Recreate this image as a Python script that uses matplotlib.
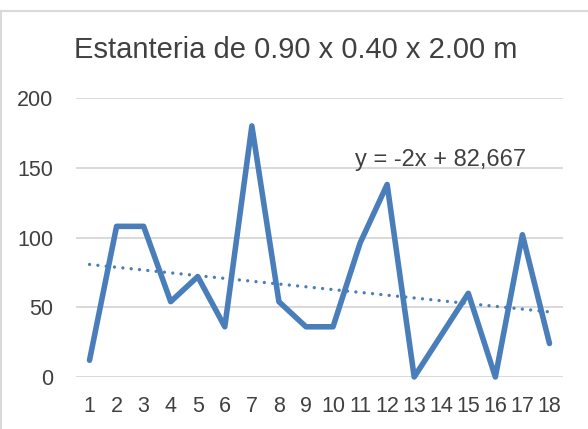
import numpy as np
import matplotlib
matplotlib.use("Agg")
import matplotlib.pyplot as plt
from matplotlib.lines import Line2D

plt.rcParams['font.family'] = ['Liberation Sans', 'DejaVu Sans']

categories = [str(i) for i in range(1, 19)]
values = [12, 108, 108, 54, 72, 36, 180, 54, 36, 36, 96, 138, 0, 30, 60, 0, 102, 24]
title = "Estanteria de 0.90 x 0.40 x 2.00 m"
yticks = [0, 50, 100, 150, 200]

W, H = 588, 429
fig = plt.figure(figsize=(W / 100, H / 100), dpi=100)
ax = fig.add_axes([76 / W, 1 - 377 / H, (563 - 76) / W, (377 - 98) / H])

x = np.arange(1, len(values) + 1)
blue = "#4a7ebb"
text_col = "#404040"

# linear trend fitted to the series
slope, intercept = np.polyfit(x, values, 1)
ax.plot(x, slope * x + intercept, color=blue, lw=2.4, ls=(0, (0.01, 2.5)),
        dash_capstyle="round", zorder=2, clip_on=False)
ax.plot(x, values, color=blue, lw=4.0, solid_joinstyle="round",
        solid_capstyle="round", zorder=3, clip_on=False)

ax.set_xlim(0.5, len(values) + 0.5)
ax.set_ylim(0, 200)
ax.set_yticks(yticks)
ax.set_xticks(x)
ax.set_xticklabels(categories)
ax.grid(axis="y", color="#d9d9d9", lw=1.4)
ax.set_axisbelow(True)
for s in ax.spines.values():
    s.set_visible(False)
ax.tick_params(length=0, labelsize=15.5, colors=text_col)
ax.tick_params(axis="x", pad=14)
ax.tick_params(axis="y", pad=16.5)
for lbl in ax.get_yticklabels():
    lbl.set_horizontalalignment("right")

eq = f"y = {slope:.0f}x + {intercept:.3f}".replace(".", ",")
ax.text(441 / W, 1 - 160 / H, eq, transform=fig.transFigure, ha="center",
        va="center", fontsize=17, color=text_col)

fig.text(296 / W, 1 - 50 / H, title, ha="center", va="center",
         fontsize=21, color=text_col)

# chart-area border
fig.add_artist(Line2D([0, 1], [1 - 11 / H, 1 - 11 / H], transform=fig.transFigure,
                      color="#d9d9d9", lw=1.5))
fig.add_artist(Line2D([1 / W, 1 / W], [0, 1 - 11 / H], transform=fig.transFigure,
                      color="#d9d9d9", lw=1.5))

fig.savefig("out.png", dpi=100)
